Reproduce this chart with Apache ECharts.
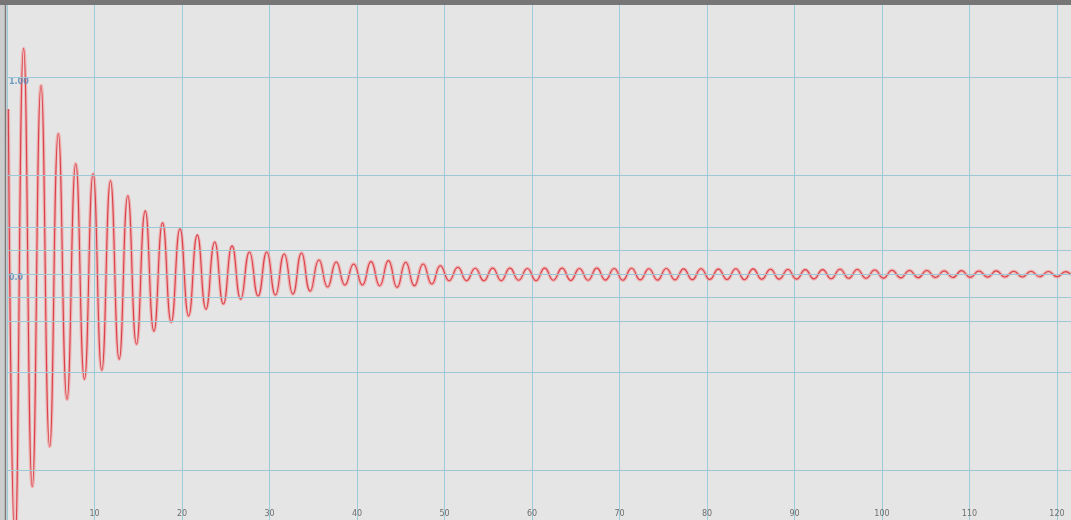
<!DOCTYPE html>
<html>
<head>
<meta charset="utf-8">
<script src="https://cdn.jsdelivr.net/npm/echarts@6/dist/echarts.min.js"></script>
<style>
html,body{margin:0;padding:0;background:#e5e5e5;}
#c{width:1071px;height:520px;}
</style>
</head>
<body>
<div id="c"></div>
<script>
// Extrema of the trace (time, value), alternating
const times = [0.15, 0.91, 1.90, 2.89, 3.89, 4.88, 5.87, 6.86, 7.86, 8.85, 9.84, 10.83, 11.83, 12.82, 13.81, 14.80, 15.80, 16.79, 17.78, 18.77, 19.77, 20.76, 21.75, 22.74, 23.74, 24.73, 25.72, 26.71, 27.71, 28.70, 29.69, 30.68, 31.68, 32.67, 33.66, 34.65, 35.65, 36.64, 37.63, 38.62, 39.62, 40.61, 41.60, 42.59, 43.59, 44.58, 45.57, 46.56, 47.56, 48.55, 49.54, 50.53, 51.53, 52.52, 53.51, 54.50, 55.50, 56.49, 57.48, 58.47, 59.47, 60.46, 61.45, 62.44, 63.44, 64.43, 65.42, 66.41, 67.41, 68.40, 69.39, 70.38, 71.38, 72.37, 73.36, 74.35, 75.35, 76.34, 77.33, 78.32, 79.32, 80.31, 81.30, 82.29, 83.29, 84.28, 85.27, 86.26, 87.26, 88.25, 89.24, 90.23, 91.23, 92.22, 93.21, 94.20, 95.20, 96.19, 97.18, 98.17, 99.17, 100.16, 101.15, 102.14, 103.14, 104.13, 105.12, 106.11, 107.11, 108.10, 109.09, 110.08, 111.08, 112.07, 113.06, 114.05, 115.05, 116.04, 117.03, 118.02, 119.02, 120.01, 121.00, 121.60];
const values = [0.84, -1.38, 1.148, -1.082, 0.959, -0.878, 0.714, -0.638, 0.561, -0.536, 0.510, -0.490, 0.474, -0.434, 0.398, -0.357, 0.321, -0.291, 0.260, -0.245, 0.230, -0.214, 0.199, -0.179, 0.163, -0.153, 0.143, -0.128, 0.112, -0.112, 0.112, -0.107, 0.102, -0.102, 0.107, -0.087, 0.071, -0.066, 0.061, -0.056, 0.051, -0.056, 0.063, -0.060, 0.068, -0.068, 0.060, -0.060, 0.051, -0.051, 0.042, -0.034, 0.034, -0.034, 0.029, -0.034, 0.030, -0.034, 0.030, -0.032, 0.028, -0.034, 0.030, -0.032, 0.030, -0.033, 0.028, -0.032, 0.030, -0.031, 0.028, -0.032, 0.029, -0.030, 0.027, -0.031, 0.028, -0.030, 0.026, -0.029, 0.027, -0.028, 0.025, -0.028, 0.027, -0.029, 0.026, -0.027, 0.024, -0.026, 0.023, -0.026, 0.022, -0.025, 0.022, -0.024, 0.024, -0.022, 0.023, -0.022, 0.020, -0.021, 0.019, -0.020, 0.018, -0.019, 0.018, -0.018, 0.016, -0.018, 0.017, -0.017, 0.015, -0.016, 0.016, -0.015, 0.014, -0.015, 0.014, -0.014, 0.013, -0.014, 0.012, -0.004];

// Horizontal grid lines and their labels
const yGridValues = [-1.0, -0.497, -0.245, -0.118, 0, 0.118, 0.245, 0.497, 1.0];
const yLabelValues = [1.0, 0];
const yLabels = ['1.00', '0.0'];

const chart = echarts.init(document.getElementById('c'), null, {renderer: 'canvas'});
const seriesData = times.map((t, i) => [t, values[i]]);

chart.setOption({
  backgroundColor: '#e5e5e5',
  animation: false,
  grid: {left: 7, right: 0, top: 5, bottom: 0, containLabel: false},
  xAxis: {
    type: 'value', min: 0, max: 121.6, interval: 10,
    axisLine: {show: false}, axisTick: {show: false},
    axisLabel: {
      inside: true, margin: 2, color: '#6e6e6e', fontSize: 8, fontFamily: 'DejaVu Sans',
      formatter: v => (v === 0 ? '' : String(v))
    },
    splitLine: {show: true, lineStyle: {color: '#9ccbd9', width: 1}}
  },
  yAxis: {
    type: 'value', min: -1.252, max: 1.369,
    axisLine: {show: false}, axisTick: {show: false}, axisLabel: {show: false},
    splitLine: {show: false}
  },
  series: [
    {
      type: 'line', data: seriesData, smooth: 0.5, showSymbol: false, silent: true,
      lineStyle: {color: 'rgba(242,160,160,0.7)', width: 3.5},
      markLine: {
        silent: true, symbol: 'none', animation: false,
        lineStyle: {color: '#9cc8d6', width: 1, type: 'solid'},
        label: {show: false},
        data: yGridValues.map(v => ({yAxis: v}))
      },
      z: 2
    },
    {
      type: 'line', data: seriesData, smooth: 0.5, showSymbol: false, silent: true,
      lineStyle: {color: '#d8404a', width: 1.1},
      z: 3
    },
    {
      type: 'scatter', data: yLabelValues.map((v, i) => [0, v, yLabels[i]]), symbolSize: 0, silent: true,
      label: {show: true, position: 'right', distance: 2, formatter: p => p.data[2], color: '#4f86b5', fontSize: 8, fontWeight: 'bold', fontFamily: 'DejaVu Sans', offset: [0, 4]},
      z: 4
    }
  ],
  graphic: [
    {type: 'rect', shape: {x: 0, y: 0, width: 5, height: 520}, style: {fill: '#cdcdcd'}, z: 100},
    {type: 'line', shape: {x1: 5.5, y1: 0, x2: 5.5, y2: 520}, style: {stroke: '#7a7a7a', lineWidth: 1.5}, z: 101},
    {type: 'rect', shape: {x: 0, y: 0, width: 1071, height: 5}, style: {fill: '#767676'}, z: 102}
  ]
});
</script>
</body>
</html>
